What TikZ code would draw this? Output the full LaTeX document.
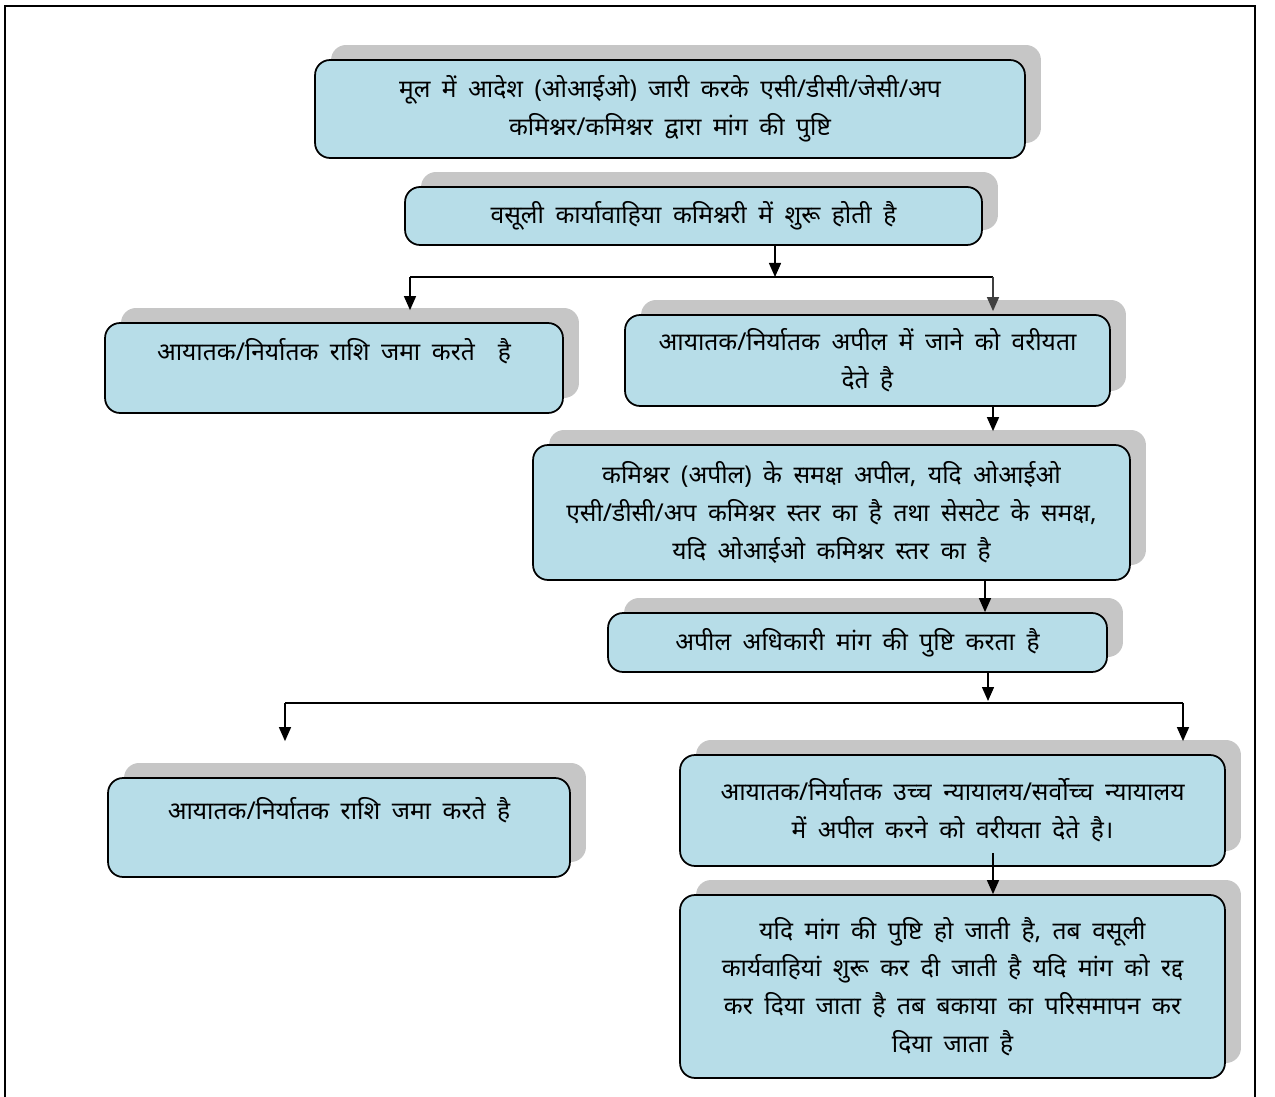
\documentclass[tikz,border=0pt]{standalone}
\usepackage{fontspec}
\newfontfamily\hindi[Script=Devanagari,WordSpace=1.8]{Noto Sans}
\usetikzlibrary{shadows,arrows.meta}
\definecolor{boxblue}{RGB}{183,221,232}
\definecolor{shadowgray}{RGB}{198,198,198}
\begin{document}
\begin{tikzpicture}[x=0.02cm,y=-0.02cm,
    box/.style={draw=black,line width=1pt,rounded corners=0.3cm,fill=boxblue,
      align=center,font=\hindi\fontsize{14}{21.5}\selectfont,inner sep=0pt,
      drop shadow={shadow xshift=0.32cm,shadow yshift=0.3cm,fill=shadowgray,opacity=1}},
    arr/.style={line width=0.8pt,-{Triangle[width=0.24cm,length=0.28cm]}},
    link/.style={line width=0.8pt}]
    \useasboundingbox (0,0) rectangle (1275,1097);
      % outer frame
      \draw[line width=1.5pt] (5,1097) -- (5,6) -- (1255,6) -- (1255,1097);
      % boxes
      \node[box,minimum width=14.2cm,minimum height=1.96cm] (b1) at (670,109)
        {मूल में आदेश (ओआईओ) जारी करके एसी/डीसी/जेसी/अप\\कमिश्नर/कमिश्नर द्वारा मांग की पुष्टि};
      \node[box,minimum width=11.54cm,minimum height=1.16cm] (b2) at (693.5,216)
        {वसूली कार्यावाहिया कमिश्नरी में शुरू होती है};
      \node[box,minimum width=9.16cm,minimum height=1.8cm] (b3) at (334,368)
        {आयातक/निर्यातक राशि जमा करते~~है\\\mbox{}};
      \node[box,minimum width=9.7cm,minimum height=1.82cm] (b4) at (867.5,360.5)
        {आयातक/निर्यातक अपील में जाने को वरीयता\\देते है};
      \node[box,minimum width=11.94cm,minimum height=2.7cm] (b5) at (831.5,512.5)
        {कमिश्नर (अपील) के समक्ष अपील, यदि ओआईओ\\एसी/डीसी/अप कमिश्नर स्तर का है तथा सेसटेट के समक्ष,\\यदि ओआईओ कमिश्नर स्तर का है};
      \node[box,minimum width=9.98cm,minimum height=1.18cm] (b6) at (857.5,642.5)
        {अपील अधिकारी मांग की पुष्टि करता है};
      \node[box,minimum width=9.24cm,minimum height=1.98cm] (b7) at (339,827.5)
        {आयातक/निर्यातक राशि जमा करते है\\\mbox{}};
      \node[box,minimum width=10.9cm,minimum height=2.22cm] (b8) at (952.5,810.5)
        {आयातक/निर्यातक उच्च न्यायालय/सर्वोच्च न्यायालय\\में अपील करने को वरीयता देते है।};
      \node[box,minimum width=10.9cm,minimum height=3.66cm] (b9) at (952.5,986.5)
        {यदि मांग की पुष्टि हो जाती है, तब वसूली\\कार्यवाहियां शुरू कर दी जाती है यदि मांग को रद्द\\कर दिया जाता है तब बकाया का परिसमापन कर\\दिया जाता है};
      % first split
      \coordinate (s1) at (775,277);
      \coordinate (s1l) at (410,277);
      \coordinate (s1r) at (993,277);
      \draw[arr] (b2.south -| s1) -- (s1);
      \draw[link] (s1l) -- (s1r);
      \draw[arr] (s1l) -- ([yshift=0.24cm]b3.north -| s1l);
      \draw[arr,black!75] (s1r) -- ([yshift=0.06cm]b4.north -| s1r);
      % appeal chain
      \draw[arr] (b4.south -| s1r) -- ([yshift=0.26cm]b5.north -| s1r);
      \coordinate (c5) at (985,0);
      \draw[arr] (b5.south -| c5) -- (b6.north -| c5);
      % second split
      \coordinate (s2) at (988,701);
      \coordinate (s2l) at (285,703);
      \coordinate (s2r) at (1183,703);
      \draw[arr] (b6.south -| s2) -- (s2);
      \draw[link] (s2l) -- (s2r);
      \draw[arr] (s2l) -- ([yshift=0.72cm]b7.north -| s2l);
      \draw[arr] (s2r) -- ([yshift=0.26cm]b8.north -| s2r);
      \coordinate (c8) at (993,0);
      \draw[arr] ([yshift=0.28cm]b8.south -| c8) -- (b9.north -| c8);
    \end{tikzpicture}
\end{document}
